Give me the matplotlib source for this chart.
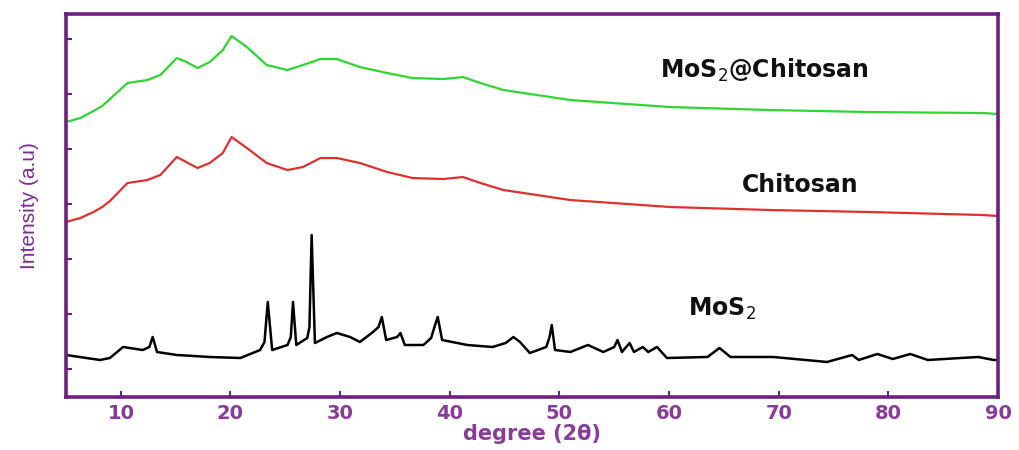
import numpy as np
import matplotlib.pyplot as plt

# XRD patterns (2theta in degrees, intensity in a.u.)
theta_blend = [5, 6.3, 7.5, 8.3, 9.0, 10.6, 12.4, 13.6, 15.1, 16.0, 17.0, 18.1, 19.3, 20.1, 21.5,
               23.3, 25.2, 26.6, 28.2, 29.7, 31.8, 34.3, 36.6, 39.4, 41.2, 42.8, 44.9,
               51.0, 60.1, 69.2, 78.3, 88.6, 90]
int_blend = [275, 279, 286, 291, 298, 314, 317, 322, 339, 335, 329, 335, 347, 361, 350,
             332, 327, 332, 338, 338, 330, 324, 319, 318, 320, 314, 307,
             297, 290, 287, 285, 284, 283]

theta_chit = [5, 6.3, 7.5, 8.3, 9.0, 10.6, 12.4, 13.6, 15.1, 17.0, 18.1, 19.3, 20.1, 21.5,
              23.3, 25.2, 26.6, 28.2, 29.7, 31.8, 34.3, 36.6, 39.4, 41.2, 42.8, 44.9,
              51.0, 60.1, 69.2, 78.3, 88.6, 90]
int_chit = [175, 179, 185, 190, 196, 214, 217, 222, 240, 229, 234, 244, 260, 249,
            234, 227, 230, 239, 239, 234, 225, 219, 218, 220, 214, 207,
            197, 190, 187, 185, 182, 181]

theta_mos2 = [5, 8.1, 9.0, 10.2, 12.0, 12.6, 12.9, 13.3, 15.1, 18.1, 20.9, 22.7, 23.1,
              23.4, 23.8, 25.2, 25.5, 25.7, 26.0, 27.0, 27.2, 27.4, 27.7, 28.8, 29.7,
              30.9, 31.8, 33.0, 33.5, 33.8, 34.2, 35.2, 35.5, 35.9, 37.6, 38.3, 38.6,
              38.9, 39.3, 41.6, 43.9, 45.1, 45.8, 46.4, 47.3, 48.8, 49.1, 49.3, 49.6,
              51.0, 52.6, 54.0, 55.0, 55.3, 55.7, 56.4, 56.8, 57.6, 58.1, 58.9, 59.8,
              63.5, 64.6, 65.6, 69.5, 74.4, 76.7, 77.3, 79.0, 80.4, 82.0, 83.6, 86.6,
              88.2, 89.6, 90]
int_mos2 = [42, 37, 39, 50, 47, 50, 60, 45, 42, 40, 39, 47, 55,
            95, 47, 52, 60, 95, 52, 59, 70, 162, 54, 60, 64,
            60, 55, 65, 70, 80, 57, 60, 64, 52, 52, 59, 70,
            80, 57, 52, 50, 54, 60, 55, 44, 50, 60, 72, 47,
            45, 52, 45, 50, 57, 45, 54, 45, 50, 45, 50, 39,
            40, 49, 40, 40, 35, 42, 37, 43, 38, 43, 37, 39,
            40, 37, 37]

tick_color = '#8a3a9a'
spine_color = '#6e1f80'

fig = plt.figure(figsize=(10.19, 4.5), dpi=100)
ax = fig.add_axes([0.0648, 0.1178, 0.9146, 0.851])

ax.plot(theta_blend, int_blend, color='#2fd62f', lw=1.6)
ax.plot(theta_chit, int_chit, color='#e0302e', lw=1.6)
ax.plot(theta_mos2, int_mos2, color='black', lw=1.8)

ax.set_xlim(5, 90)
ax.set_ylim(0, 383)
ax.set_xticks(np.arange(10, 91, 10))
ax.set_yticks(np.arange(28, 383, 55))
ax.set_yticklabels([])

for s in ax.spines.values():
    s.set_color(spine_color)
    s.set_linewidth(2.6)

ax.tick_params(axis='both', direction='in', color=spine_color, length=4, width=1.5)
ax.tick_params(axis='x', labelcolor=tick_color, labelsize=14, pad=5)
for lab in ax.get_xticklabels():
    lab.set_fontweight('heavy')
    lab.set_family(['DejaVu Sans'])

ax.set_xlabel('degree (2θ)', color=tick_color, fontsize=15, fontweight='heavy',
              family=['DejaVu Sans'], labelpad=1)
ax.set_ylabel('Intensity (a.u)', color='#7e2a90', fontsize=15,
              family=['Liberation Sans', 'DejaVu Sans'], labelpad=16)

ax.text(68.7, 327, 'MoS$_2$@Chitosan', ha='center', va='center', fontsize=17,
        fontweight='bold', family=['DejaVu Sans'], color='#111111')
ax.text(72.0, 212, 'Chitosan', ha='center', va='center', fontsize=17,
        fontweight='bold', family=['DejaVu Sans'], color='#111111')
ax.text(64.8, 88, 'MoS$_2$', ha='center', va='center', fontsize=17,
        fontweight='bold', family=['DejaVu Sans'], color='#111111')

fig.savefig('out.png', dpi=100)
